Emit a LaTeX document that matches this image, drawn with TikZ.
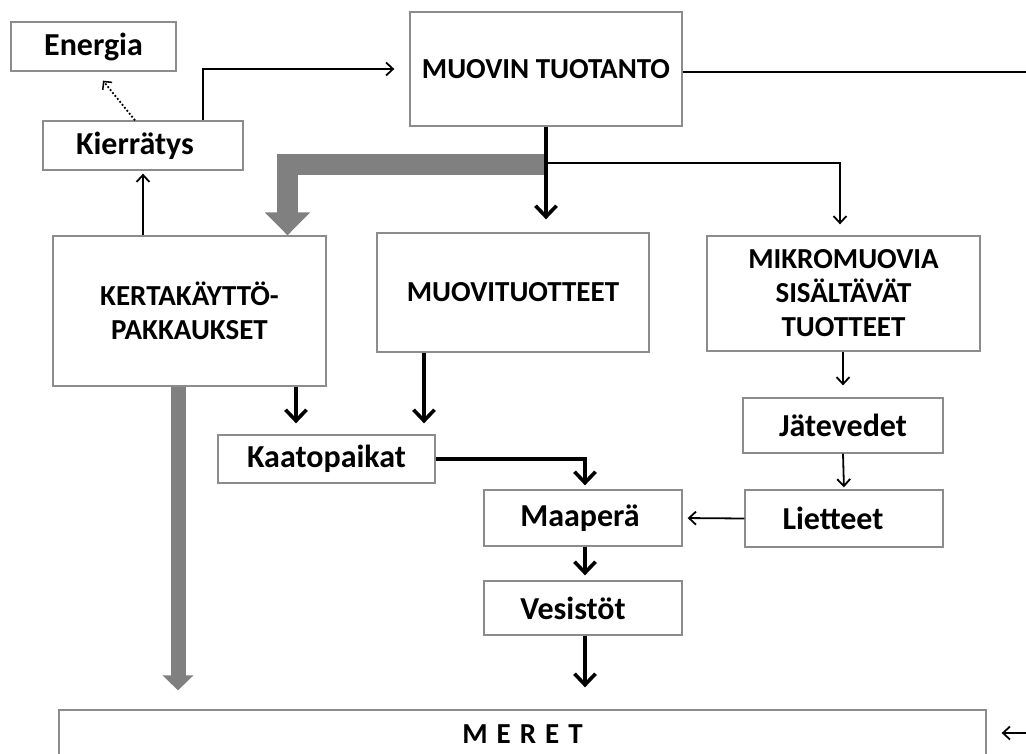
\documentclass[tikz,border=0pt]{standalone}
\usepackage{fontspec}
\setmainfont{Carlito}
\usetikzlibrary{arrows.meta,calc}
\definecolor{boxline}{HTML}{8C8C8C}
\definecolor{fatgray}{HTML}{808080}
\tikzset{
  box/.style={draw=boxline, line width=1.3pt, fill=white, inner sep=0pt, align=center, font=\bfseries},
  lowlab/.style={box, font=\fontsize{32}{36}\selectfont\bfseries},
  caplab/.style={box, font=\fontsize{29}{34}\selectfont\bfseries},
  thinarr/.style={line width=1.8pt, -{Straight Barb[length=7pt,width=13pt,line width=1.8pt]}},
  thickarr/.style={line width=4pt, -{Straight Barb[length=11pt,width=21pt,line width=3.6pt]}},
  fatarr/.style={draw=fatgray, line width=21pt, -{Triangle[length=23pt 0 0,width=44pt 0 0]}},
  fatarrb/.style={draw=fatgray, line width=15pt, -{Triangle[length=15pt 0 0,width=30pt 0 0]}},
}
\begin{document}
\begin{tikzpicture}[x=1pt,y=-1pt]
\useasboundingbox (0,0) rectangle (1026,753);
\fill[white] (0,0) rectangle (1026,753);
\clip (0,0) rectangle (1026,753);

% boxes
\node[lowlab, minimum width=165pt, minimum height=49pt] (energia) at (93.5,46.5) {Energia};
\node[lowlab, minimum width=200pt, minimum height=49pt] (kier) at (143,145.5) {Kierrätys\hspace*{16pt}};
\node[caplab, minimum width=272pt, minimum height=114pt] (muovin) at (546,69) {MUOVIN TUOTANTO};
\node[caplab, minimum width=273pt, minimum height=150pt] (kert) at (189.5,311) {KERTAKÄYTTÖ-\\PAKKAUKSET};
\node[caplab, minimum width=272pt, minimum height=119pt] (muovit) at (513,292.5) {MUOVITUOTTEET};
\node[caplab, minimum width=273pt, minimum height=115pt] (mikro) at (843.5,293.5) {MIKROMUOVIA\\SISÄLTÄVÄT\\TUOTTEET};
\node[lowlab, minimum width=200pt, minimum height=55pt] (jate) at (843,425.5) {Jätevedet};
\node[lowlab, minimum width=198pt, minimum height=57pt] (liet) at (844,518.5) {Lietteet\hspace*{22pt}};
\node[lowlab, minimum width=217pt, minimum height=48pt] (kaato) at (326.5,459) {Kaatopaikat};
\node[lowlab, minimum width=198pt, minimum height=56pt] (maa) at (583,518) {Maaperä\hspace*{6pt}};
\node[lowlab, minimum width=198pt, minimum height=54pt] (vesi) at (583,608) {Vesistöt\hspace*{20pt}};
\node[caplab, minimum width=927pt, minimum height=48pt] (meret) at (522.5,734) {M\hspace{9pt}E\hspace{9pt}R\hspace{9pt}E\hspace{9pt}T};

\coordinate (j) at (545,163);
\coordinate (jg) at (545,164.5);
\coordinate (redge) at (1030,0);
\coordinate (rin) at (1030,733);

% gray fat arrows
\draw[fatarr] (jg) -| ([xshift=98pt]kert.north);
\draw[fatarrb, shorten >=19pt] ([xshift=-11.5pt]kert.south) -- ([xshift=-11.5pt]kert.south |- meret.north);

% black connectors
\draw[thinarr, shorten >=15pt] ([xshift=60pt]kier.north) |- (muovin.west);
\draw[line width=1.8pt, dotted, -{Straight Barb[length=6pt,width=12pt,line width=1.5pt]}] ([xshift=-8pt]kier.north) -- ([xshift=9.5pt,yshift=-9pt]energia.south);
\draw[thinarr, shorten >=3pt] (kert.north -| kier.south) -- (kier.south);
\draw[thinarr, shorten >=11pt] (j) -| ([xshift=-3.5pt]mikro.north);
\draw[thickarr, shorten >=13pt] (muovin.south) -- (muovin.south |- muovit.north);
\draw[thickarr, shorten >=11pt] ([xshift=106.5pt]kert.south) -- ([xshift=106.5pt]kert.south |- kaato.north);
\draw[thickarr, shorten >=11pt] ([xshift=-89pt]muovit.south) -- ([xshift=-89pt]muovit.south |- kaato.north);
\draw[thickarr, shorten >=4pt] (kaato.east) -| ([xshift=2pt]maa.north);
\draw[thickarr, shorten >=5pt] ([xshift=2pt]maa.south) -- ([xshift=2pt]vesi.north);
\draw[thickarr, shorten >=22pt] ([xshift=2pt]vesi.south) -- ([xshift=2pt]vesi.south |- meret.north);
\draw[thinarr, shorten >=5pt] (liet.west) -- (maa.east);
\draw[thinarr, shorten >=12pt] (jate.north |- mikro.south) -- (jate.north);
\draw[thinarr, shorten >=2pt] (jate.south) -- (liet.north);
\draw[line width=1.8pt] ([yshift=-3pt]muovin.east) -- ([yshift=-3pt]muovin.east -| redge);
\draw[thinarr, shorten >=15pt] (rin) -- (meret.east |- rin);
\end{tikzpicture}
\end{document}
